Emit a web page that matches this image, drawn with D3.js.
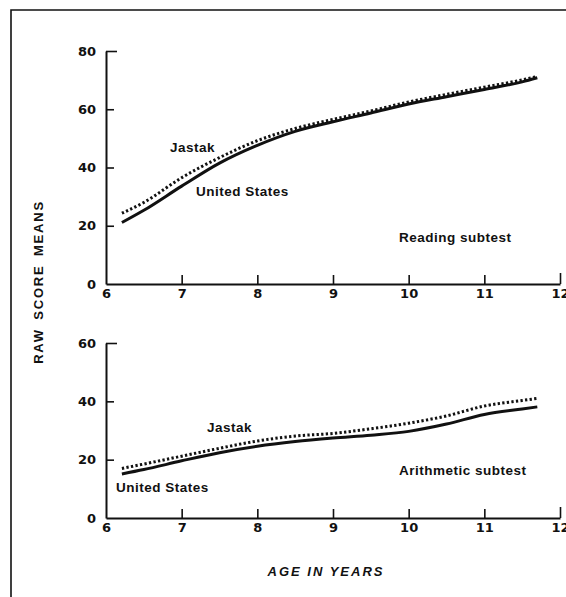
<!DOCTYPE html>
<html><head><meta charset="utf-8">
<script src="https://cdn.jsdelivr.net/npm/d3@7"></script>
<style>
body{margin:0;background:#fff;}
svg{display:block;}
text{font-family:"Liberation Sans",Arial,sans-serif;font-weight:bold;fill:#111;}
</style></head>
<body>
<svg id="c" width="566" height="597"></svg>
<script>
// ---- data ----
const xTicks = [6, 7, 8, 9, 10, 11, 12];
const xTickLabels = ["6", "7", "8", "9", "10", "11", "12"];
const readingYTicks = [0, 20, 40, 60, 80];
const arithYTicks = [0, 20, 40, 60];

const ages = [6.21, 6.5, 7, 7.5, 8, 8.5, 9, 9.5, 10, 10.5, 11, 11.5, 11.7];
const readingUS     = [21.1, 25.3, 33.6, 41.5, 47.6, 52.4, 55.7, 58.7, 61.8, 64.3, 66.8, 69.4, 70.8];
const readingJastak = [24.3, 28.0, 36.5, 43.4, 49.2, 53.4, 56.5, 59.4, 62.5, 65.1, 67.6, 70.1, 71.3];
const arithUS       = [15.1, 16.6, 19.6, 22.4, 24.6, 26.2, 27.4, 28.4, 29.7, 32.2, 35.5, 37.4, 38.1];
const arithJastak   = [17.0, 18.5, 21.2, 23.9, 26.4, 28.1, 29.0, 30.6, 32.5, 35.0, 38.4, 40.3, 41.0];

const svg = d3.select("#c");

// frame
svg.append("path").attr("d", "M11,597 L11,10 L566,10")
  .attr("fill", "none").attr("stroke", "#111").attr("stroke-width", 1.6);

const x = d3.scaleLinear().domain([6, 12]).range([106, 560]);
const tickFont = '"DejaVu Sans",Verdana,sans-serif';

function panel(yDomain, yRange, yTicks, us, jas, labels) {
  const y = d3.scaleLinear().domain(yDomain).range(yRange);
  const g = svg.append("g");

  const ya = d3.axisLeft(y).tickValues(yTicks).tickSize(-8).tickSizeOuter(0).tickPadding(10);
  const yg = g.append("g").attr("transform", `translate(${x(6)},0)`).call(ya);
  yg.select(".domain").attr("stroke", "#111").attr("stroke-width", 2);
  yg.selectAll(".tick line").attr("stroke", "#111").attr("stroke-width", 1.6)
    .attr("x2", d => d === 0 ? 0 : (d === yDomain[1] ? 11 : 8));
  yg.selectAll(".tick text").style("font-size", "13px").style("font-family", tickFont).style("font-weight", "bold");

  const xa = d3.axisBottom(x).tickValues(xTicks).tickFormat((d, i) => xTickLabels[i])
    .tickSize(-9).tickSizeOuter(0).tickPadding(5);
  const xg = g.append("g").attr("transform", `translate(0,${y(0)})`).call(xa);
  xg.select(".domain").attr("stroke", "#111").attr("stroke-width", 2);
  xg.selectAll(".tick line").attr("stroke", "#111").attr("stroke-width", 1.6)
    .attr("y2", d => d === 6 ? 0 : (d === 12 ? -11 : -9));
  xg.selectAll(".tick text").style("font-size", "13px").style("font-family", tickFont).style("font-weight", "bold");

  const line = d3.line().x((d, i) => x(ages[i])).y(d => y(d)).curve(d3.curveMonotoneX);
  g.append("path").datum(us).attr("d", line).attr("fill", "none")
    .attr("stroke", "#111").attr("stroke-width", 3);
  g.append("path").datum(jas).attr("d", line).attr("fill", "none")
    .attr("stroke", "#111").attr("stroke-width", 3).attr("stroke-dasharray", "2.3,2.3");

  labels.forEach(l => {
    g.append("text").attr("x", l[0]).attr("y", l[1]).text(l[2])
      .style("font-size", "13.5px").style("letter-spacing", "0.5px");
  });
}

panel([0, 80], [284, 51], readingYTicks, readingUS, readingJastak,
  [[170, 152, "Jastak"], [196, 196, "United States"], [399, 242, "Reading subtest"]]);
panel([0, 60], [518, 343], arithYTicks, arithUS, arithJastak,
  [[207, 432, "Jastak"], [116, 492, "United States"], [399, 475, "Arithmetic subtest"]]);

// axis titles
svg.append("text").attr("transform", "translate(43,282) rotate(-90)")
  .attr("text-anchor", "middle").style("font-size", "13px").style("letter-spacing", "1.8px")
  .style("word-spacing", "3px")
  .text("RAW SCORE MEANS");
svg.append("text").attr("x", 326).attr("y", 576)
  .attr("text-anchor", "middle").style("font-size", "13px").style("letter-spacing", "2px")
  .style("font-style", "italic")
  .text("AGE IN YEARS");
</script>
</body></html>
